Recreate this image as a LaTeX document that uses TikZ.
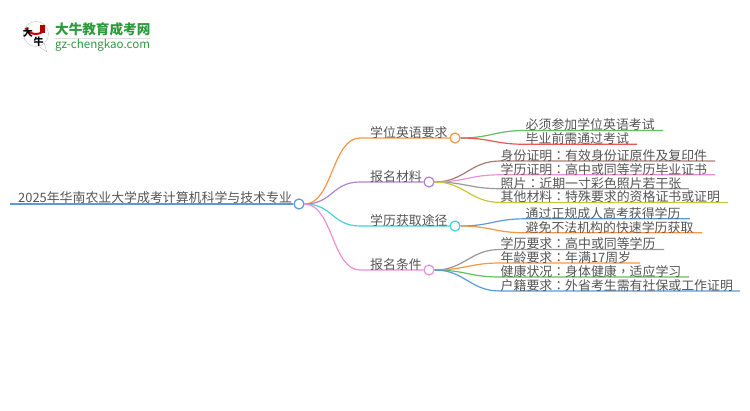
\documentclass[tikz,border=0pt]{standalone}
\usepackage{fontspec}
\setmainfont{Noto Sans CJK SC}
\newfontfamily\puncfont{Noto Sans CJK TC}
\newcommand{\cmk}{{\puncfont ：}}
\newcommand{\dou}{{\puncfont ，}}
\definecolor{txtgray}{HTML}{555555}
\definecolor{lineblue}{HTML}{5B9BD5}
\definecolor{lineorange}{HTML}{F79646}
\definecolor{linepurple}{HTML}{B083CF}
\definecolor{linecyan}{HTML}{45D0DC}
\definecolor{linepink}{HTML}{EE8FD6}
\definecolor{linegreen}{HTML}{62BF62}
\definecolor{linered}{HTML}{E8585A}
\definecolor{linebrown}{HTML}{A67C74}
\definecolor{linegray}{HTML}{999999}
\definecolor{lineyellow}{HTML}{C9C63A}
\definecolor{logogreen}{HTML}{2E9A3E}
\tikzset{
    label/.style={anchor=base west,inner sep=0pt,text=txtgray,font=\fontsize{12.9}{14}\selectfont},
    knob/.style={circle,draw,fill=white,line width=1.2pt,minimum size=10pt,inner sep=0pt},
    wire/.style={line width=1.2pt},
    logochar/.style={inner sep=0pt,font=\fontsize{10}{10}\selectfont\bfseries},
}
\begin{document}
\begin{tikzpicture}[x=1pt,y=-1pt]
        \useasboundingbox (0,0) rectangle (750,410);
        % Logo
        \draw[gray!50,fill=white] (38,46) -- (47,52) -- (44,43);
        \draw[gray!50,fill=white] (36,34) circle (12.5);
        \draw[red!80!black,line width=2pt] (25.5,28) arc (150:55:12);
        \node[fill=red!70!black,inner sep=0pt,minimum width=5pt,minimum height=8pt] (stamp) at (42,29) {};
        \node[logochar] (da) at (28,33) {大};
        \node[logochar] (niu) at (38.5,42) {牛};
        \node[anchor=base west,inner sep=0pt,text=logogreen,font=\fontsize{13.6}{14}\selectfont\bfseries] (brand) at (55,34) {大牛教育成考网};
        \draw[gray!25] (55,38.5) -- (150,38.5);
        \node[anchor=base west,inner sep=0pt,text=logogreen,font=\fontsize{11.6}{14}\selectfont] (site) at (55,48) {gz-chengkao.com};
        % Root
        \node[knob,draw=lineblue] (root) at (299,204) {};
        \coordinate (rootend) at (10,204);
        \draw[lineblue,line width=1.6pt] (rootend) -- (root);
        \node[label] (roottext) at (18,202.5) {2025年华南农业大学成考计算机科学与技术专业};
        % Main branches
        \foreach \nm/\y/\x/\col/\txt in {
            yingyu/138/455/lineorange/学位英语要求,
            cailiao/182/429/linepurple/报名材料,
            tujing/226/455/linecyan/学历获取途径,
            tiaojian/270/429/linepink/报名条件} {
            \node[knob,draw=\col] (\nm) at (\x,\y) {};
            \coordinate (\nm start) at (360,\y);
            \draw[wire,\col] (root.east) .. controls +(28,0) and +(-28,0) .. (\nm start) -- (\nm);
            \node[label] (\nm text) at (370,\y-0.5) {\txt};
        }
        % Leaves
        \foreach \p/\nm/\y/\s/\e/\col/\txt in {
            yingyu/a/130.5/525/663/linegreen/必须参加学位英语考试,
            yingyu/b/144.3/525/637/linered/毕业前需通过考试,
            cailiao/c/161/500/715/linebrown/身份证明\cmk 有效身份证原件及复印件,
            cailiao/d/174.8/500/715/linepink/学历证明\cmk 高中或同等学历毕业证书,
            cailiao/e/188.7/500/689/linegray/照片\cmk 近期一寸彩色照片若干张,
            cailiao/f/202.4/500/728/lineyellow/其他材料\cmk 特殊要求的资格证书或证明,
            tujing/g/218.8/525/690/lineblue/通过正规成人高考获得学历,
            tujing/h/232.8/525/702/lineorange/避免不法机构的快速学历获取,
            tiaojian/i/249.5/500/664/linegray/学历要求\cmk 高中或同等学历,
            tiaojian/j/263/500/640/lineorange/年龄要求\cmk 年满17周岁,
            tiaojian/k/277/500/689/linegreen/健康状况\cmk 身体健康\dou 适应学习,
            tiaojian/l/291/500/740/lineblue/户籍要求\cmk 外省考生需有社保或工作证明} {
            \coordinate (\nm start) at (\s,\y);
            \coordinate (\nm end) at (\e,\y);
            \draw[wire,\col] (\p.east) .. controls +(30,0) and +(-30,0) .. (\nm start) -- (\nm end);
            \node[label] (\nm text) at (\s+0.5,\y-0.7) {\txt};
        }
    \end{tikzpicture}
\end{document}
